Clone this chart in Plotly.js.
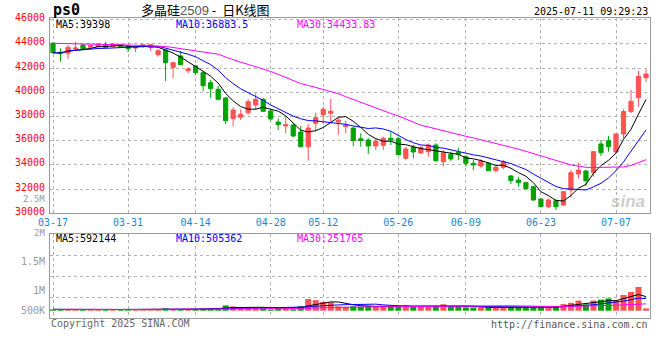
<!DOCTYPE html>
<html>
<head>
<meta charset="utf-8">
<script src="https://cdn.plot.ly/plotly-3.0.1.min.js"></script>
<style>html,body{margin:0;padding:0;background:#fff;}#chart{width:660px;height:360px;}</style>
</head>
<body>
<div id="chart"></div>
<script>
// ---- data ----
const dates = [
 '03-17','03-18','03-19','03-20','03-21','03-24','03-25','03-26','03-27','03-28',
 '03-31','04-01','04-02','04-03','04-07','04-08','04-09','04-10','04-11',
 '04-14','04-15','04-16','04-17','04-18','04-21','04-22','04-23','04-24','04-25',
 '04-28','04-29','04-30','05-06','05-07','05-08','05-09',
 '05-12','05-13','05-14','05-15','05-16','05-19','05-20','05-21','05-22','05-23',
 '05-26','05-27','05-28','05-29','05-30','06-03','06-04','06-05','06-06',
 '06-09','06-10','06-11','06-12','06-13','06-16','06-17','06-18','06-19','06-20',
 '06-23','06-24','06-25','06-26','06-27','06-30','07-01','07-02','07-03','07-04',
 '07-07','07-08','07-09','07-10','07-11'];

const openP = [44040,43315,43215,43560,43900,43710,43760,43925,43760,43925,
 43820,43650,43760,43710,43100,43490,42060,42995,41780,42170,
 41615,40790,40240,39525,37815,37930,38310,38945,39415,38450,
 37540,37210,37295,36715,35500,37435,38145,38260,37540,37155,
 37045,36160,36055,35560,35615,36195,36160,34545,35450,34980,
 35090,35640,34260,34875,35040,34675,34130,33905,34130,33520,
 33800,33080,32750,32530,32195,31180,30545,31040,30685,31925,
 33245,33495,33355,35725,36000,35065,36550,38400,39550,41200];
const highP = [44150,43630,43900,44150,43985,43950,44050,44150,44050,44000,
 43900,43800,43990,43990,43570,43570,42440,43405,42060,42275,
 41700,41010,40520,39600,38755,38590,39440,39910,39500,38500,
 37845,37980,37435,37210,37375,38310,38805,39440,37930,37650,
 37155,36610,36195,36195,36330,36740,36330,35500,35640,35560,
 35780,35780,35230,35090,35420,34815,34405,34460,34235,33905,
 34405,33165,33025,32610,32255,31240,31240,31155,31865,33575,
 34180,33575,35145,36055,36385,36610,38590,40185,41755,41895];
const lowP = [43160,42520,42745,43450,43490,43600,43700,43650,43700,43650,
 43320,43300,43650,43400,42935,40930,41150,42225,41565,41425,
 40100,39525,39360,37375,37155,37705,38120,38530,38365,37650,
 36880,36610,36280,35450,34345,36740,37350,37435,36465,36610,
 35560,35500,34900,35230,35230,35640,34790,34405,34545,34900,
 34680,34260,33850,34320,34405,33850,33575,33765,33495,33355,
 33635,32420,32195,31980,31040,30495,30415,30275,30630,31320,
 32890,32255,33025,34735,35090,34960,36195,38260,38805,40870];
const closeP = [43265,43215,43710,43650,43595,43875,43985,43710,43985,43710,
 43595,43700,43925,43925,43430,42440,42440,42275,41920,41615,
 40540,40290,39415,37650,38530,38180,39220,39415,38425,37790,
 37320,37320,36385,35500,37045,37895,38590,38425,37705,37295,
 36000,36030,35560,35945,36195,36055,34840,35310,35065,35435,
 35640,34345,35005,34485,34875,34130,33990,34320,33520,33800,
 34260,32695,32530,32030,31100,30545,31100,30545,31785,33355,
 33575,32695,35090,35005,35500,36550,38400,39250,41300,41500];
// 30-day average line (needs history before 03-17)
const ma30P = [44040,44020,44010,44000,43985,43970,43960,43940,43930,43920,
 43905,43890,43875,43860,43850,43780,43690,43605,43515,43420,
 43330,43230,43140,42910,42660,42475,42300,42110,41935,41710,
 41470,41215,40970,40720,40565,40400,40245,40095,39880,39630,
 39390,39150,38915,38690,38475,38245,38035,37780,37535,37275,
 37130,36965,36815,36650,36510,36360,36230,36085,35940,35780,
 35625,35470,35300,35120,34930,34740,34545,34345,34145,33995,
 33900,33800,33785,33785,33785,33785,33830,33955,34190,34430];
const volume = [55000,48000,60000,52000,50000,45000,55000,50000,48000,52000,
 60000,45000,50000,55000,65000,100000,55000,55000,55000,60000,
 100000,100000,60000,220000,180000,140000,140000,130000,125000,50000,
 140000,140000,60000,190000,490000,440000,370000,350000,180000,160000,
 190000,170000,200000,180000,180000,200000,200000,240000,195000,190000,
 190000,195000,270000,190000,165000,140000,135000,140000,135000,140000,
 140000,135000,135000,140000,135000,130000,190000,195000,275000,330000,
 425000,265000,425000,465000,512900,430000,660000,785000,990000,95720];
const tickDates = ['03-17','03-31','04-14','04-28','05-12','05-26','06-09','06-23','07-07'];
const priceTicks = [30000,32000,34000,36000,38000,40000,42000,44000,46000];
const volLabels = ['2.5M','2M','1.5M','1M','500K'];
const header = {code:'ps0', name:'多晶硅', contract:'2509', kind:'日K线图', time:'2025-07-11 09:29:23'};
const priceMaText = ['MA5:39398','MA10:36883.5','MA30:34433.83'];
const volMaText = ['MA5:592144','MA10:505362','MA30:251765'];

// ---- helpers ----
function movAvg(arr, n){
  return arr.map((v,i)=>{const s=Math.max(0,i-n+1);let t=0;for(let k=s;k<=i;k++)t+=arr[k];return t/(i-s+1);});
}
const RED='#ff5252', GREEN='#00a400';
const volColors = closeP.map((c,i)=> c>=openP[i]?RED:GREEN);

const W=660,H=360,L=50,R=10,T=18,B=42;
const px = X => (X-L)/(W-L-R);
const py = Y => (H-B-Y)/(H-T-B);
const MONO = 'DejaVu Sans Mono';

const traces = [
 {type:'candlestick', x:dates, open:openP, high:highP, low:lowP, close:closeP,
  xaxis:'x', yaxis:'y', whiskerwidth:0,
  increasing:{line:{color:RED,width:1}, fillcolor:RED},
  decreasing:{line:{color:GREEN,width:1}, fillcolor:GREEN}, hoverinfo:'skip'},
 {type:'scatter', mode:'lines', x:dates, y:movAvg(closeP,5), line:{color:'#000000',width:1}, xaxis:'x', yaxis:'y'},
 {type:'scatter', mode:'lines', x:dates, y:movAvg(closeP,10), line:{color:'#0000ff',width:1}, xaxis:'x', yaxis:'y'},
 {type:'scatter', mode:'lines', x:dates, y:ma30P, line:{color:'#ff00ff',width:1}, xaxis:'x', yaxis:'y'},
 {type:'bar', x:dates, y:volume, marker:{color:volColors, line:{width:0}}, xaxis:'x2', yaxis:'y2'},
 {type:'scatter', mode:'lines', x:dates, y:movAvg(volume,5), line:{color:'#000000',width:1}, xaxis:'x2', yaxis:'y2'},
 {type:'scatter', mode:'lines', x:dates, y:movAvg(volume,10), line:{color:'#0000ff',width:1}, xaxis:'x2', yaxis:'y2'},
 {type:'scatter', mode:'lines', x:dates, y:movAvg(volume,30), line:{color:'#ff00ff',width:1}, xaxis:'x2', yaxis:'y2'}
];

const xRange = [-0.4, dates.length-1+0.53];
const vRange = [-305000, 3206000];
const vGrid = [1,2,3].map(k=>vRange[0]+(vRange[1]-vRange[0])*k/4);
const gridCol = '#b0b0b0', borderCol = '#9a9a9a';

const ann = [];
const A = (text,X,Y,xa,color,size,extra)=>ann.push(Object.assign({text, xref:'paper', yref:'paper', x:px(X), y:py(Y), xanchor:xa, yanchor:'middle', showarrow:false, font:{family:MONO,size:size||10,color:color||'#000'}}, extra||{}));
A('<b>'+header.code+'</b>', 51, 10, 'left', '#000', 15);
ann.push({text: header.name+'<span style="font-family:Liberation Sans;color:#555">'+header.contract+'</span> -  '+header.kind,
  xref:'paper', yref:'paper', x:px(139), y:py(9.5), xanchor:'left', yanchor:'middle', showarrow:false,
  font:{family:'Noto Sans CJK SC', size:13, color:'#000'}});
A(header.time, 650, 12, 'right', '#000', 10);
A(priceMaText[0], 54, 24, 'left', '#000');
A(priceMaText[1], 174, 24, 'left', '#0000ff');
A(priceMaText[2], 295, 24, 'left', '#ff00ff');
A(volMaText[0], 54, 238.5, 'left', '#000');
A(volMaText[1], 174, 238.5, 'left', '#0000ff');
A(volMaText[2], 295, 238.5, 'left', '#ff00ff');
const volLabelY = [199, 233, 261, 290.7, 310];
volLabels.forEach((t,i)=>A(t, 47, volLabelY[i], 'right', '#999999', i<2?9:10));
A('Copyright 2025 SINA.COM', 49, 323.5, 'left', '#666666');
A('http://finance.sina.com.cn', 650, 324, 'right', '#555555');
ann.push({text:'<b><i>sina</i></b>', xref:'paper', yref:'paper', x:px(628), y:py(201), xanchor:'center', yanchor:'middle', showarrow:false,
  font:{family:'Liberation Sans', size:17, color:'rgba(160,160,160,0.55)'}});

const layout = {
  width:W, height:H, margin:{l:L,r:R,t:T,b:B}, paper_bgcolor:'#fff', plot_bgcolor:'#fff',
  showlegend:false, font:{family:MONO, size:10}, bargap:0.2, boxgap:0.2,
  xaxis:{type:'category', domain:[0,1], anchor:'y', range:xRange, rangeslider:{visible:false},
    tickmode:'array', tickvals:tickDates, ticktext:tickDates, ticks:'', showgrid:true, gridcolor:gridCol, griddash:'dot', gridwidth:1,
    showline:true, mirror:true, linecolor:borderCol, linewidth:1, tickfont:{family:MONO,size:10,color:'#1a86d0'}, fixedrange:true},
  yaxis:{domain:[(H-B-213.3)/(H-T-B),1], anchor:'x', range:[30000,46130], tickmode:'array', tickvals:priceTicks, ticktext:priceTicks.map(String),
    ticks:'', showgrid:true, gridcolor:gridCol, griddash:'dot', zeroline:false, showline:true, mirror:true, linecolor:borderCol, linewidth:1,
    tickfont:{family:MONO,size:10,color:'#ff0000'}, ticklabelshift:-2, ticklabelstandoff:2},
  xaxis2:{type:'category', domain:[0,1], anchor:'y2', matches:'x', range:xRange, tickmode:'array', tickvals:tickDates, showticklabels:false, ticks:'',
    showgrid:true, gridcolor:gridCol, griddash:'dot', showline:true, mirror:true, linecolor:borderCol, linewidth:1},
  yaxis2:{domain:[0,(H-B-234)/(H-T-B)], anchor:'x2', range:vRange, tickmode:'array', tickvals:vGrid, showticklabels:false, ticks:'',
    showgrid:true, gridcolor:gridCol, griddash:'dot', zeroline:false, showline:true, mirror:true, linecolor:borderCol, linewidth:1},
  annotations: ann
};
Plotly.newPlot('chart', traces, layout, {staticPlot:true, displayModeBar:false});
</script>
</body>
</html>
